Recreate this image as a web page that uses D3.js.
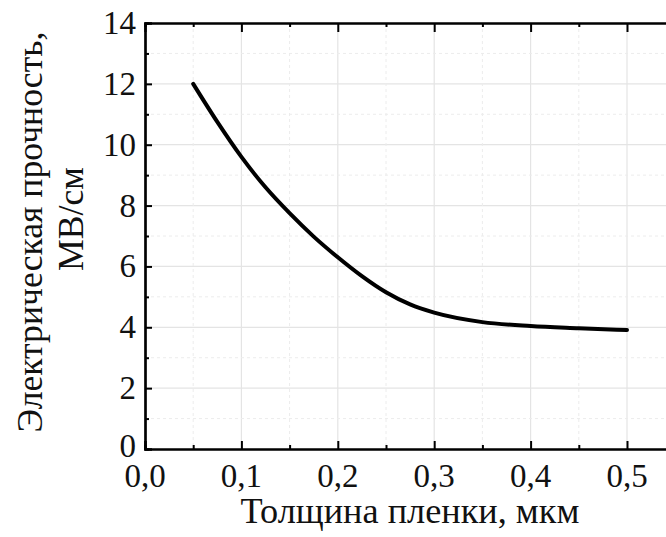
<!DOCTYPE html>
<html><head><meta charset="utf-8">
<script src="https://cdn.jsdelivr.net/npm/d3@7"></script>
</head><body style="margin:0;padding:0;background:#fff;overflow:hidden">
<svg id="c" width="666" height="537" style="display:block"></svg>
<script>
const thickness = [0.05, 0.075, 0.1, 0.125, 0.15, 0.175, 0.2, 0.225, 0.25, 0.275, 0.3, 0.35, 0.4, 0.45, 0.5];
const strength  = [12.0, 10.75, 9.6, 8.6, 7.75, 6.98, 6.3, 5.68, 5.15, 4.75, 4.48, 4.17, 4.04, 3.97, 3.91];
const xTicks = [0, 0.1, 0.2, 0.3, 0.4, 0.5];
const xTickLabels = ["0,0", "0,1", "0,2", "0,3", "0,4", "0,5"];
const xMinor = [0.05, 0.15, 0.25, 0.35, 0.45];
const yTicks = [0, 2, 4, 6, 8, 10, 12, 14];
const yMinor = [1, 3, 5, 7, 9, 11, 13];
const xTitle = "Толщина пленки, мкм";
const yTitle1 = "Электрическая прочность,";
const yTitle2 = "МВ/см";

(function(){
const svg = d3.select("#c");
const FONT = '"Liberation Serif"';
const pLeft = 145, pTop = 23, pBottom = 449;
const x = d3.scaleLinear().domain([0, 0.55]).range([pLeft, pLeft + 0.55 * 964]);
const y = d3.scaleLinear().domain([0, 14]).range([pBottom, pTop]);
const pRight = x(0.55);

// grid
const g = svg.append("g");
g.selectAll(".gx").data(xTicks.slice(1)).join("line")
  .attr("x1", d => x(d)).attr("x2", d => x(d)).attr("y1", pTop).attr("y2", pBottom)
  .attr("stroke", "#e4e4e4").attr("stroke-width", 1.2);
g.selectAll(".gy").data(yTicks.slice(1, -1)).join("line")
  .attr("y1", d => y(d)).attr("y2", d => y(d)).attr("x1", pLeft).attr("x2", pRight)
  .attr("stroke", "#e4e4e4").attr("stroke-width", 1.2);
g.selectAll(".gxm").data(xMinor).join("line")
  .attr("x1", d => x(d)).attr("x2", d => x(d)).attr("y1", pTop).attr("y2", pBottom)
  .attr("stroke", "#ececec").attr("stroke-width", 1).attr("stroke-dasharray", "3,3");
g.selectAll(".gym").data(yMinor).join("line")
  .attr("y1", d => y(d)).attr("y2", d => y(d)).attr("x1", pLeft).attr("x2", pRight)
  .attr("stroke", "#ececec").attr("stroke-width", 1).attr("stroke-dasharray", "3,3");

// axes
const axB = d3.axisBottom(x).tickValues(xTicks).tickSize(-8).tickFormat("");
const axBm = d3.axisBottom(x).tickValues(xMinor).tickSize(-4).tickFormat("");
const axT = d3.axisTop(x).tickValues(xTicks.slice(1)).tickSize(-9).tickFormat("");
const axTm = d3.axisTop(x).tickValues(xMinor).tickSize(-4).tickFormat("");
const axL = d3.axisLeft(y).tickValues(yTicks).tickSize(-7).tickFormat("");
const axLm = d3.axisLeft(y).tickValues(yMinor).tickSize(-4).tickFormat("");
function style(sel){ sel.selectAll("path").attr("stroke","#000").attr("stroke-width",2.2);
  sel.selectAll("line").attr("stroke","#000").attr("stroke-width",2); }
svg.append("g").attr("transform",`translate(0,${pBottom})`).call(axB).call(style);
svg.append("g").attr("transform",`translate(0,${pBottom})`).call(axBm).call(style);
svg.append("g").attr("transform",`translate(0,${pTop})`).call(axT).call(style);
svg.append("g").attr("transform",`translate(0,${pTop})`).call(axTm).call(style);
svg.append("g").attr("transform",`translate(${pLeft},0)`).call(axL).call(style);
svg.append("g").attr("transform",`translate(${pLeft},0)`).call(axLm).call(style);

// text layer
const tg = svg.append("g").attr("font-family", "Liberation Serif").style("font-family", FONT);

tg.selectAll("text.xl").data(xTicks).join("text").attr("class", "xl")
  .attr("x", d => x(d)).attr("y", 487).attr("text-anchor","middle")
  .style("font-family", FONT).attr("font-size", 33).attr("fill","#111")
  .text((d,i) => xTickLabels[i]);
tg.selectAll("text.yl").data(yTicks).join("text").attr("class", "yl")
  .attr("x", 136).attr("y", d => d === 0 ? y(d) + 8 : y(d) + 11).attr("text-anchor","end")
  .style("font-family", FONT).attr("font-size", 33).attr("fill","#111")
  .text(d => d);

// titles, sized so their lengths match the reference
function fit(t, target){ const L = t.node().getComputedTextLength(); if (L > 0) t.attr("font-size", 30 * target / L); }
const xt = tg.append("text").attr("x", 410).attr("y", 523).attr("text-anchor","middle")
  .style("font-family", FONT).attr("font-size", 30).attr("fill","#111").text(xTitle);
fit(xt, 339);
const yt1 = tg.append("text").attr("transform","translate(42,232) rotate(-90)").attr("text-anchor","middle")
  .style("font-family", FONT).attr("font-size", 30).attr("fill","#111").text(yTitle1);
fit(yt1, 401);
const yt2 = tg.append("text").attr("transform","translate(83,219) rotate(-90)").attr("text-anchor","middle")
  .style("font-family", FONT).attr("font-size", +yt1.attr("font-size")).attr("fill","#111").text(yTitle2);

// curve
const line = d3.line().x((d,i) => x(thickness[i])).y(d => y(d)).curve(d3.curveMonotoneX);
svg.append("path").datum(strength).attr("d", line)
  .attr("fill","none").attr("stroke","#000").attr("stroke-width",4).attr("stroke-linecap","round");
})();
</script>
</body></html>
